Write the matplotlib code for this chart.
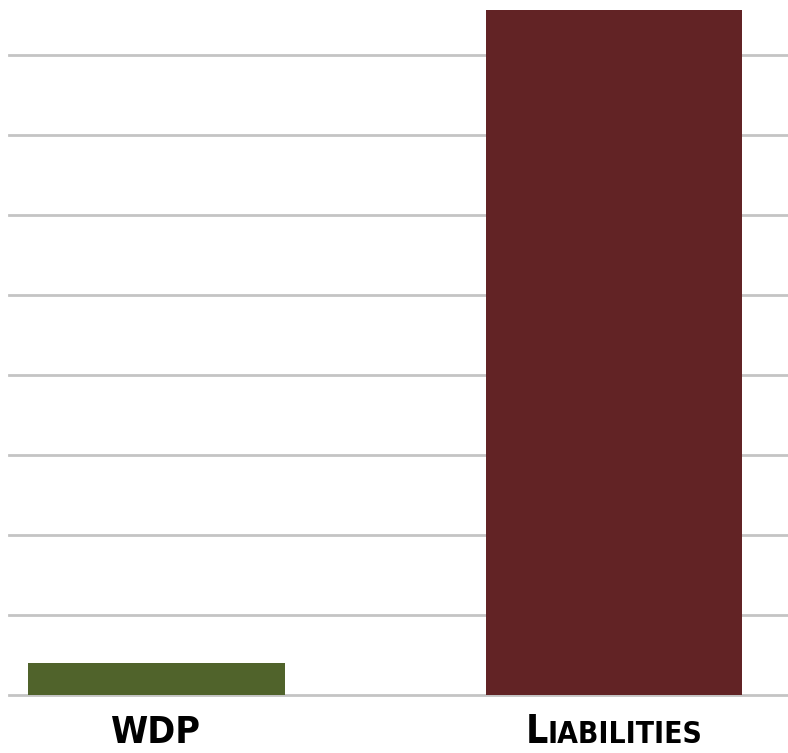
import matplotlib
matplotlib.use("Agg")
import matplotlib.pyplot as plt
from matplotlib.offsetbox import TextArea, HPacker, AnnotationBbox
import matplotlib.transforms as mtransforms

# data (grid step = 1 unit)
categories = ["WDP", "LIABILITIES"]
values = [0.4, 8.56]
bar_colors = ["#50632B", "#622325"]
grid_ticks = list(range(0, 9))

fig = plt.figure(figsize=(7.88, 7.53), dpi=100)
ax = fig.add_axes([9 / 788, 58 / 753, 1 - 9 / 788, 695 / 753])

x = [0, 1]
ax.bar(x, values, width=0.56, color=bar_colors, zorder=2)

ax.set_xlim(-0.322, 1.38)
ax.set_ylim(0, 8.6875)
ax.set_yticks(grid_ticks)
ax.yaxis.grid(True, color="#C4C4C4", linewidth=2, zorder=0)
ax.set_axisbelow(True)
for gl in ax.yaxis.get_gridlines():
    gl.set_clip_on(False)
ax.set_xticks([])
ax.tick_params(left=False, labelleft=False)
for s in ax.spines.values():
    s.set_visible(False)

# category labels, bold condensed; second one in small caps
font = dict(family=["DejaVu Sans"], stretch="condensed", weight="bold", color="black")
trans = mtransforms.blended_transform_factory(ax.transData, fig.transFigure)
ax.text(x[0], 10 / 753, categories[0], transform=trans, ha="center", va="baseline",
        fontsize=27, **font)

first = TextArea(categories[1][0], textprops=dict(fontsize=28, **font))
rest = TextArea(categories[1][1:], textprops=dict(fontsize=21.5, **font))
box = HPacker(children=[first, rest], align="baseline", pad=0, sep=0)
ab = AnnotationBbox(box, (x[1], 2 / 753), xycoords=trans, frameon=False,
                    box_alignment=(0.5, 0), pad=0, annotation_clip=False)
ax.add_artist(ab)

fig.savefig("out.png", dpi=100)
